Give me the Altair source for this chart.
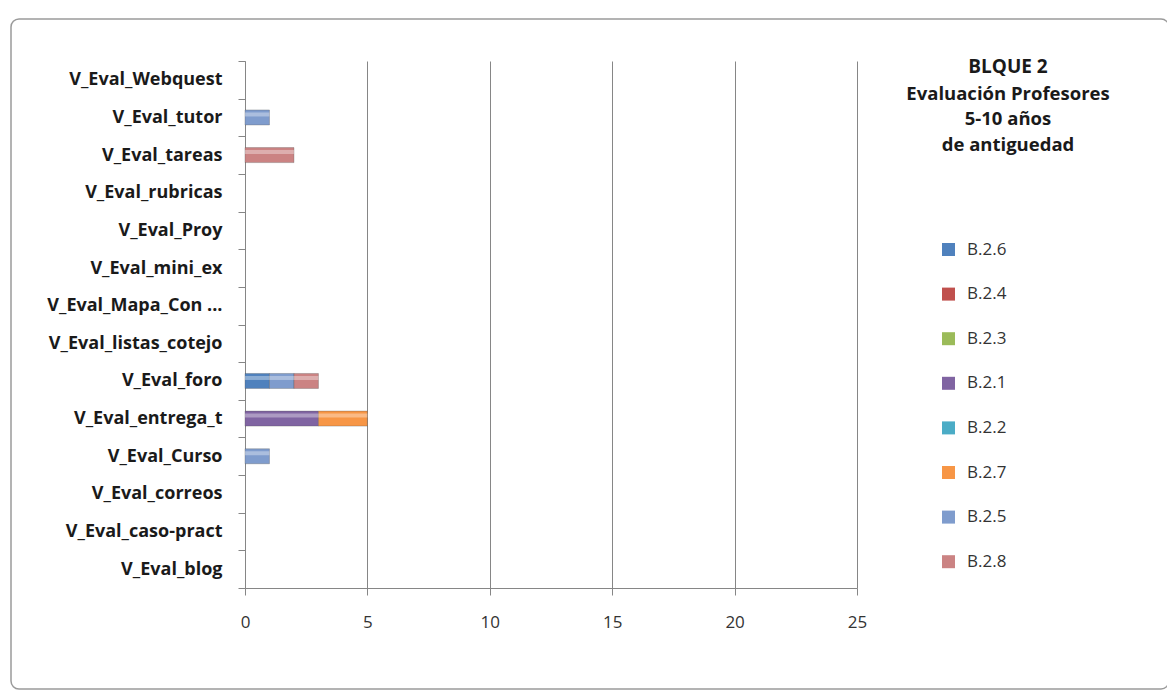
import altair as alt
import pandas as pd

categories = ["V_Eval_Webquest", "V_Eval_tutor", "V_Eval_tareas", "V_Eval_rubricas",
              "V_Eval_Proy", "V_Eval_mini_ex", "V_Eval_Mapa_Con ...", "V_Eval_listas_cotejo",
              "V_Eval_foro", "V_Eval_entrega_t", "V_Eval_Curso", "V_Eval_correos",
              "V_Eval_caso-pract", "V_Eval_blog"]

series = ["B.2.6", "B.2.4", "B.2.3", "B.2.1", "B.2.2", "B.2.7", "B.2.5", "B.2.8"]
colors = ["#4F81BD", "#C0504D", "#9BBB59", "#8064A2", "#4BACC6", "#F79646", "#7F9CCD", "#CB8383"]

# values per series, aligned with categories (top to bottom)
b26 = [0, 0, 0, 0, 0, 0, 0, 0, 1, 0, 0, 0, 0, 0]
b24 = [0] * 14
b23 = [0] * 14
b21 = [0, 0, 0, 0, 0, 0, 0, 0, 0, 3, 0, 0, 0, 0]
b22 = [0] * 14
b27 = [0, 0, 0, 0, 0, 0, 0, 0, 0, 2, 0, 0, 0, 0]
b25 = [0, 1, 0, 0, 0, 0, 0, 0, 1, 0, 1, 0, 0, 0]
b28 = [0, 0, 2, 0, 0, 0, 0, 0, 1, 0, 0, 0, 0, 0]
values = [b26, b24, b23, b21, b22, b27, b25, b28]

rows = []
for si, (s, vals) in enumerate(zip(series, values)):
    for c, v in zip(categories, vals):
        if v > 0:
            rows.append({"cat": c, "serie": s, "valor": v, "orden": si})
df = pd.DataFrame(rows)

FONT = "Open Sans"
ycat = alt.Scale(domain=categories, paddingInner=0, paddingOuter=0)
xq = alt.Scale(domain=[0, 25], nice=False)

y_enc = alt.Y("cat:N", scale=ycat,
              axis=alt.Axis(title=None, labelFont=FONT, labelFontSize=18, labelFontWeight="bold",
                            labelColor="#1a1a1a", tickBand="extent", tickSize=7, tickColor="#868686",
                            domainColor="#868686", labelPadding=16, grid=False, labelLimit=300))
x_enc = alt.X("valor:Q", stack="zero", scale=xq,
              axis=alt.Axis(title=None, values=[0, 5, 10, 15, 20, 25], labelFont=FONT, labelFontSize=17,
                            labelColor="#333333", tickSize=7, tickColor="#868686", domainColor="#868686",
                            gridColor="#868686", gridWidth=1, labelPadding=19, labelFlush=False))

bars = alt.Chart(df).mark_bar(size=15, stroke="#4a4a4a", strokeWidth=0.5, strokeOpacity=0.6).encode(
    y=y_enc,
    x=x_enc,
    color=alt.Color("serie:N", scale=alt.Scale(domain=series, range=colors),
                    legend=alt.Legend(title=None, orient="none", legendX=695, legendY=180,
                                      symbolType="square", symbolSize=169, symbolStrokeWidth=0,
                                      labelFont=FONT, labelFontSize=17, labelColor="#333333",
                                      rowPadding=26.6, labelOffset=10)),
    order=alt.Order("orden:Q"),
)

shine = alt.Chart(df).mark_bar(size=4, yOffset=-3, color="white", opacity=0.35).encode(
    y=alt.Y("cat:N", scale=ycat), x=alt.X("valor:Q", stack="zero", scale=xq),
    order=alt.Order("orden:Q"), detail="serie:N",
)

frame = alt.Chart(pd.DataFrame({"k": [0]})).mark_rect(
    fill=None, stroke="#9a9a9a", strokeWidth=1.5, cornerRadius=8).encode(
    x=alt.value(-234), x2=alt.value(924), y=alt.value(-42), y2=alt.value(628))

chart = alt.layer(frame, bars, shine).properties(
    width=612, height=527,
    title=alt.TitleParams(
        text="BLQUE 2",
        subtitle=["Evaluación Profesores", "5-10 años", "de antiguedad"],
        anchor="middle", align="center", dx=457, dy=140,
        font=FONT, fontSize=19, fontWeight="bold", color="#1a1a1a",
        subtitleFont=FONT, subtitleFontSize=18.5, subtitleFontWeight="bold", subtitleColor="#1a1a1a",
        subtitleLineHeight=25.5, subtitlePadding=8,
    ),
    autosize=alt.AutoSizeParams(type="none"),
    padding={"left": 237, "top": 53, "right": 310, "bottom": 103},
    background="white",
).configure_view(stroke=None).configure_axis(gridOpacity=1)

chart.save("out.html", embed_options={"renderer": "svg", "actions": False})
